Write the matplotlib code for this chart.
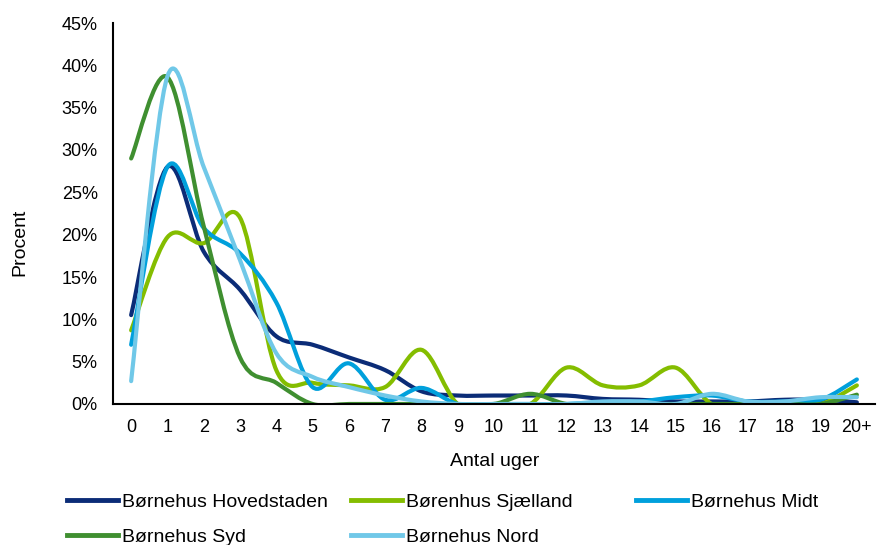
import matplotlib.pyplot as plt
import numpy as np
from matplotlib.path import Path
from matplotlib.patches import PathPatch
from matplotlib.lines import Line2D

plt.rcParams['font.family'] = ['Liberation Sans', 'DejaVu Sans']

# data (percent per week)
weeks = [str(i) for i in range(20)] + ['20+']
hovedstaden = [10.5, 28.0, 18.0, 13.5, 8.0, 7.0, 5.5, 4.0, 1.5, 1.0, 1.0,
               1.0, 1.0, 0.6, 0.5, 0.3, 0.3, 0.3, 0.5, 0.5, 0.2]
sjaelland = [8.7, 19.7, 19.0, 22.0, 4.0, 2.5, 2.2, 2.0, 6.4, 0.0, 0.0,
             0.0, 4.3, 2.2, 2.2, 4.3, 0.0, 0.0, 0.0, 0.0, 2.2]
midt = [7.0, 28.0, 20.8, 17.8, 12.0, 2.0, 4.8, 0.5, 1.9, 0.0, 0.0,
        0.0, 0.0, 0.2, 0.3, 0.8, 1.0, 0.3, 0.3, 0.5, 2.9]
syd = [29.0, 38.6, 21.0, 5.5, 2.5, 0.0, 0.0, 0.0, 0.0, 0.0, 0.0,
       1.2, 0.0, 0.0, 0.0, 0.0, 0.0, 0.0, 0.0, 0.0, 1.1]
nord = [2.7, 38.7, 28.0, 17.0, 6.0, 3.2, 2.0, 1.0, 0.3, 0.0, 0.0,
        0.0, 0.0, 0.3, 0.3, 0.0, 1.2, 0.3, 0.3, 0.8, 0.8]

series = [
    ('Børnehus Hovedstaden', hovedstaden, '#0B2C77'),
    ('Børenhus Sjælland', sjaelland, '#84BD00'),
    ('Børnehus Midt', midt, '#00A0DC'),
    ('Børnehus Syd', syd, '#3F8F30'),
    ('Børnehus Nord', nord, '#70C8E8'),
]


def smooth_path(xs, ys):
    # excel-like smoothed line: bezier with catmull-rom control points
    p = np.column_stack([xs, ys])
    n = len(p)
    verts = [p[0]]
    codes = [Path.MOVETO]
    for i in range(n - 1):
        prev = p[i - 1] if i > 0 else p[i]
        nxt = p[i + 2] if i + 2 < n else p[i + 1]
        c1 = p[i] + (p[i + 1] - prev) / 6
        c2 = p[i + 1] - (nxt - p[i]) / 6
        verts += [c1, c2, p[i + 1]]
        codes += [Path.CURVE4] * 3
    return Path(verts, codes)


fig = plt.figure(figsize=(8.77, 5.45), dpi=100)
ax = fig.add_axes([113 / 877, 1 - 404 / 545, 762 / 877, 381 / 545])

x = np.arange(len(weeks))
handles = []
for name, vals, col in series:
    path = smooth_path(x, np.array(vals) / 100)
    ax.add_patch(PathPatch(path, fill=False, edgecolor=col, lw=3,
                           capstyle='round', joinstyle='round'))
    handles.append(Line2D([], [], color=col, lw=3.5, label=name))

ax.set_xlim(-0.5, len(weeks) - 0.5)
ax.set_ylim(0, 0.45)
ax.set_xticks(x)
ax.set_xticklabels(weeks)
ax.set_yticks(np.arange(0, 0.46, 0.05))
ax.set_yticklabels([f'{int(round(v * 100))}%' for v in np.arange(0, 0.46, 0.05)])
ax.tick_params(length=0, labelsize=13)
ax.tick_params(axis='y', pad=11)
ax.tick_params(axis='x', pad=11)
for s in ['top', 'right']:
    ax.spines[s].set_visible(False)
for s in ['left', 'bottom']:
    ax.spines[s].set_color('black')
    ax.spines[s].set_linewidth(1.5)

fig.text(20 / 877, 1 - 242 / 545, 'Procent', rotation=90, ha='center',
         va='center', fontsize=14)
fig.text(495 / 877, 1 - 461 / 545, 'Antal uger', ha='center', va='center',
         fontsize=14)

# legend: three equal-width columns like excel
cols = [[handles[0], handles[3]], [handles[1], handles[4]], [handles[2]]]
xpos = [67, 351, 636]
for hs, xp in zip(cols, xpos):
    fig.legend(handles=hs, loc='upper left', bbox_to_anchor=(xp / 877, 1 - 493 / 545),
               frameon=False, fontsize=14, handlelength=2.6, handletextpad=0.25,
               labelspacing=0.9, borderpad=0, borderaxespad=0)

fig.savefig('out.png', dpi=100)
